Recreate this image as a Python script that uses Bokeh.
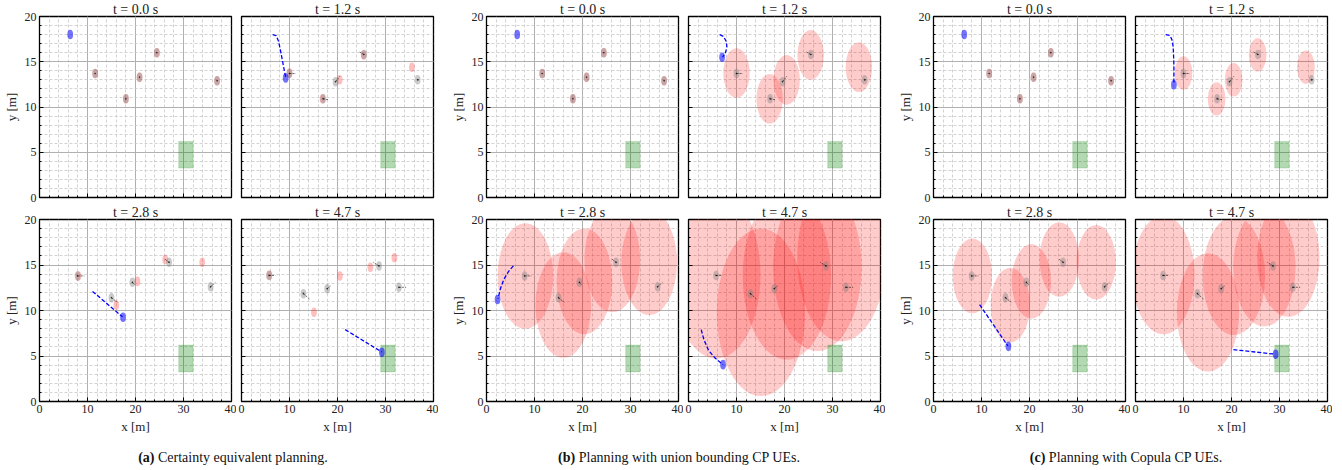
from bokeh.plotting import figure
from bokeh.layouts import column, row
from bokeh.models import Range1d, SingleIntervalTicker, Div
from bokeh.embed import file_html
from bokeh.resources import INLINE

# ---------------- data ----------------
TIMES = ["0.0", "1.2", "2.8", "4.7"]

# actual obstacle (pedestrian) positions per time step
OBS_X = [
    [11.6, 18.0, 20.85, 24.45, 37.0],
    [10.0, 17.0, 19.6, 25.5, 36.7],
    [7.95, 15.0, 19.35, 27.0, 35.65],
    [5.75, 12.9, 17.85, 28.65, 32.8],
]
OBS_Y = [
    [13.7, 10.9, 13.3, 16.0, 12.9],
    [13.7, 10.9, 12.8, 15.8, 13.0],
    [13.8, 11.4, 13.1, 15.3, 12.6],
    [13.85, 11.85, 12.4, 14.9, 12.55],
]
# heading segments of obstacles
OBS_VX = [
    [0.0, 0.0, 0.0, 0.0, 0.0],
    [1.3, 1.2, 0.9, -1.0, 0.3],
    [1.4, 1.2, 0.5, -1.0, 1.0],
    [1.3, 1.3, 0.7, -1.2, 1.5],
]
OBS_VY = [
    [0.0, 0.0, 0.0, 0.0, 0.0],
    [0.0, -0.1, 0.6, 0.3, 0.0],
    [0.0, -0.5, -0.3, 0.4, 0.5],
    [0.0, -0.6, 0.3, 0.4, 0.0],
]
# predicted obstacle positions
PRED_X = [
    [11.6, 18.0, 20.85, 24.45, 37.0],
    [10.0, 16.9, 20.45, 25.45, 35.5],
    [8.1, 16.0, 20.4, 26.2, 33.9],
    [5.8, 15.1, 20.5, 26.85, 31.85],
]
PRED_Y = [
    [13.7, 10.9, 13.3, 16.0, 12.9],
    [13.75, 10.9, 13.0, 15.75, 14.4],
    [13.8, 10.6, 13.2, 15.6, 15.3],
    [13.9, 9.8, 13.8, 14.75, 15.8],
]

# goal region
GOAL_X = [29.0, 32.0]
GOAL_Y = [3.25, 6.2]

# (a) certainty equivalent
ROBOT_X_A = [6.4, 9.2, 17.4, 29.25]
ROBOT_Y_A = [18.0, 13.2, 9.25, 5.4]
PATH_X_A = [[], [6.5, 7.2, 7.7, 8.1, 8.5, 8.9, 9.2], [11.05, 17.3], [21.6, 29.2]]
PATH_Y_A = [[], [18.0, 17.9, 17.3, 16.3, 15.2, 14.1, 13.3], [12.1, 9.3], [7.9, 5.45]]
CP_R_A = [0.0, 0.0, 0.0, 0.0]

# (b) union bounding CP
ROBOT_X_B = [6.4, 7.0, 2.3, 7.2]
ROBOT_Y_B = [18.0, 15.5, 11.2, 4.05]
PATH_X_B = [[], [6.5, 7.3, 7.9, 8.0, 7.7, 7.1], [5.6, 4.6, 3.6, 2.9, 2.4], [2.65, 3.2, 4.2, 5.5, 6.6, 7.2]]
PATH_Y_B = [[], [18.0, 17.8, 17.2, 16.6, 16.0, 15.5], [14.9, 14.3, 13.4, 12.4, 11.3], [7.9, 6.8, 5.6, 4.8, 4.3, 4.05]]
CP_R_B = [0.0, 2.75, 5.8, 9.2]

# (c) Copula CP
ROBOT_X_C = [6.4, 8.0, 15.6, 29.2]
ROBOT_Y_C = [18.0, 12.45, 6.06, 5.2]
PATH_X_C = [[], [6.3, 7.2, 7.7, 7.9, 8.0, 8.0], [9.6, 15.5], [20.4, 29.1]]
PATH_Y_C = [[], [18.0, 17.9, 17.3, 16.2, 14.5, 12.6], [10.65, 6.1], [5.7, 5.2]]
CP_R_C = [0.0, 1.85, 4.1, 6.5]

CAPTIONS = [("(a)", "Certainty equivalent planning."),
            ("(b)", "Planning with union bounding CP UEs."),
            ("(c)", "Planning with Copula CP UEs.")]

METHODS = [
    (ROBOT_X_A, ROBOT_Y_A, PATH_X_A, PATH_Y_A, CP_R_A),
    (ROBOT_X_B, ROBOT_Y_B, PATH_X_B, PATH_Y_B, CP_R_B),
    (ROBOT_X_C, ROBOT_Y_C, PATH_X_C, PATH_Y_C, CP_R_C),
]

FONT = "Liberation Serif"
AGENT_W = 1.2
AGENT_H = 1.05
FRAME_W = 192
LEFT_BORDER = [31, 48, 48]


def style_axis(ax, show_labels):
    ax.major_tick_in = 4
    ax.major_tick_out = 0
    ax.minor_tick_in = 2
    ax.minor_tick_out = 0
    ax.axis_line_color = "black"
    ax.major_tick_line_color = "black"
    ax.minor_tick_line_color = "black"
    ax.major_label_text_font = FONT
    ax.axis_label_text_font = FONT
    ax.axis_label_text_font_size = "13px"
    ax.axis_label_text_font_style = "normal"
    ax.axis_label_text_color = "#222222"
    ax.axis_label_standoff = 3
    if show_labels:
        ax.major_label_text_font_size = "12px"
        ax.major_label_text_color = "#222222"
        ax.major_label_standoff = 3
    else:
        ax.major_label_text_font_size = "1px"
        ax.major_label_text_color = None
        ax.major_label_standoff = 0


def make_panel(m, ti, rowi, left):
    rx, ry, pxs, pys, cpr = METHODS[m]
    mbl = LEFT_BORDER[m] if left else 5
    p = figure(frame_width=FRAME_W, frame_height=181 if rowi == 0 else 182,
               x_range=Range1d(0, 40), y_range=Range1d(0, 20),
               output_backend="svg", toolbar_location=None,
               min_border_left=mbl, min_border_right=5,
               min_border_top=13 if rowi == 0 else 12,
               min_border_bottom=6 if rowi == 0 else 31,
               background_fill_color="white", border_fill_color="white")
    p.title.text = "t = %s s" % TIMES[ti]
    p.title.align = "center"
    p.title.text_font = FONT
    p.title.text_font_size = "14px"
    p.title.text_font_style = "normal"
    p.title.text_color = "#222222"
    p.title.standoff = -1
    p.outline_line_color = "black"
    p.outline_line_width = 1.3
    p.outline_line_alpha = 1.0

    p.xaxis.ticker = SingleIntervalTicker(interval=10, num_minor_ticks=5)
    p.yaxis.ticker = SingleIntervalTicker(interval=5, num_minor_ticks=5)
    style_axis(p.xaxis[0], rowi == 1)
    style_axis(p.yaxis[0], left)
    if rowi == 1:
        p.xaxis.axis_label = "x [m]"
    if left:
        p.yaxis.axis_label = "y [m]"

    for g in (p.xgrid[0], p.ygrid[0]):
        g.grid_line_color = "#b0b0b0"
        g.grid_line_width = 1.0
        g.minor_grid_line_color = "#c8c8c8"
        g.minor_grid_line_width = 0.8
        g.minor_grid_line_dash = "3 2"

    # predicted positions / conformal regions
    r = cpr[ti]
    if r > 0:
        p.ellipse(x=PRED_X[ti], y=PRED_Y[ti], width=2 * r, height=2 * r,
                  fill_color="red", fill_alpha=0.2, line_color=None)
    else:
        p.ellipse(x=PRED_X[ti], y=PRED_Y[ti], width=AGENT_W, height=AGENT_H,
                  fill_color="red", fill_alpha=0.25, line_color=None)

    # goal
    p.quad(left=[GOAL_X[0]], right=[GOAL_X[1]], bottom=[GOAL_Y[0]], top=[GOAL_Y[1]],
           fill_color="green", fill_alpha=0.3, line_color="green", line_alpha=0.15)

    # obstacles
    p.ellipse(x=OBS_X[ti], y=OBS_Y[ti], width=AGENT_W, height=AGENT_H,
              fill_color="gray", fill_alpha=0.42, line_color=None)
    x1 = [a + b for a, b in zip(OBS_X[ti], OBS_VX[ti])]
    y1 = [a + b for a, b in zip(OBS_Y[ti], OBS_VY[ti])]
    p.segment(x0=OBS_X[ti], y0=OBS_Y[ti], x1=x1, y1=y1,
              line_color="black", line_width=0.8, line_dash="2 1", line_alpha=0.7)
    p.scatter(x=OBS_X[ti], y=OBS_Y[ti], size=1, color="black", alpha=0.5)

    # robot
    if len(pxs[ti]) > 0:
        p.line(x=pxs[ti], y=pys[ti], line_color="blue", line_width=1.3, line_dash="4 2")
    p.ellipse(x=[rx[ti]], y=[ry[ti]], width=AGENT_W, height=AGENT_H,
              fill_color="blue", fill_alpha=0.55, line_color=None)
    return p


top = []
bottom = []
for m in range(3):
    top.append(make_panel(m, 0, 0, True))
    top.append(make_panel(m, 1, 0, False))
    bottom.append(make_panel(m, 2, 1, True))
    bottom.append(make_panel(m, 3, 1, False))

centers = [228, 674, 1121]
spans = "".join(
    '<span style="position:absolute;left:%dpx;top:7px;transform:translateX(-50%%);'
    'white-space:nowrap;font-family:\'Liberation Serif\';font-size:14px;color:#111;">'
    '<b>%s</b> %s</span>' % (c, a, b) for c, (a, b) in zip(centers, CAPTIONS))
cap = Div(text='<div style="position:relative;width:1324px;height:26px;">%s</div>' % spans,
          width=1324, height=26)

layout = column(row(*top), row(*bottom), cap)
open("out.html", "w").write(file_html(layout, INLINE))
